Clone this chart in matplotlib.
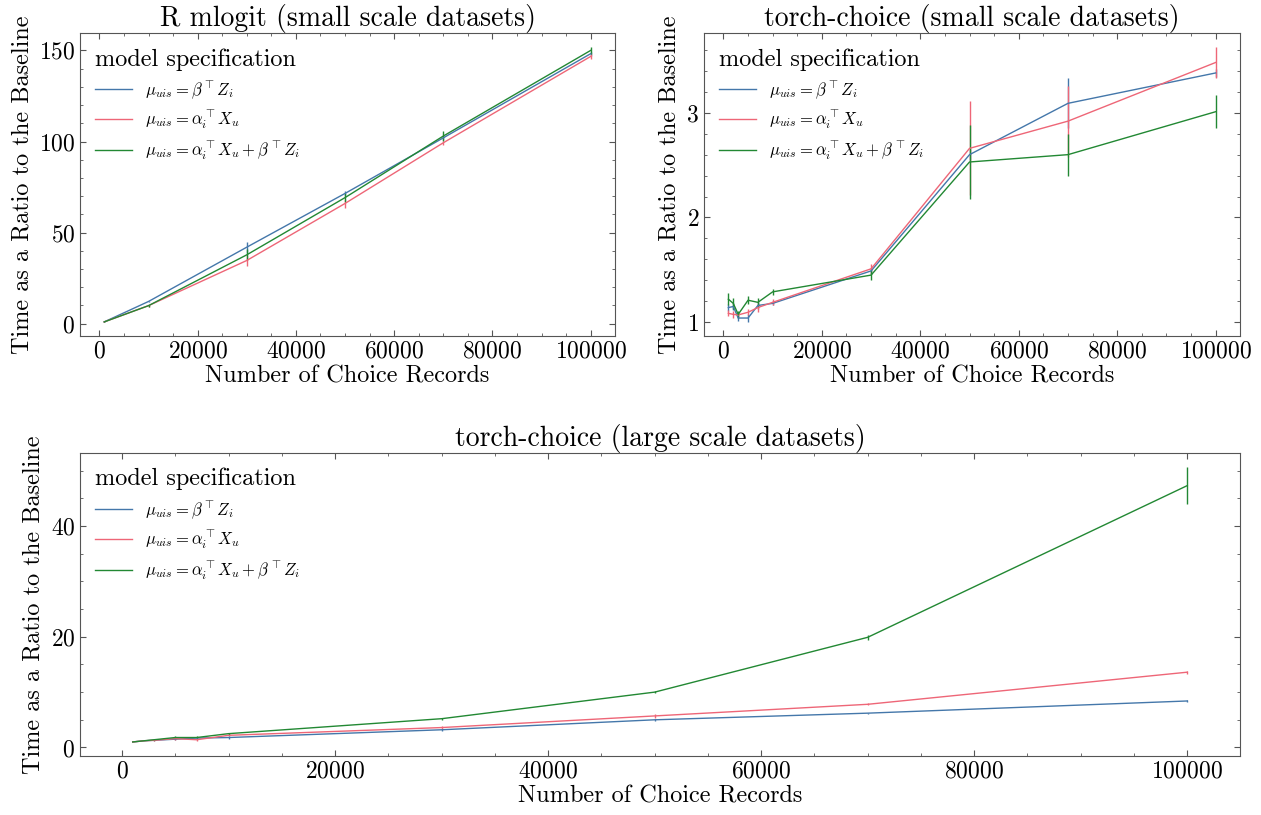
import matplotlib
matplotlib.use("Agg")
import matplotlib.pyplot as plt
from matplotlib.lines import Line2D
from matplotlib.ticker import MultipleLocator, AutoMinorLocator

# Computer-Modern look without LaTeX
plt.rcParams['font.family'] = 'serif'
plt.rcParams['font.serif'] = ['cmr10', 'DejaVu Serif']
plt.rcParams['mathtext.fontset'] = 'cm'
plt.rcParams['axes.formatter.use_mathtext'] = True
plt.rcParams['axes.unicode_minus'] = False
plt.rcParams['xtick.direction'] = 'in'
plt.rcParams['ytick.direction'] = 'in'
plt.rcParams['xtick.top'] = True
plt.rcParams['ytick.right'] = True
plt.rcParams['xtick.major.size'] = 4
plt.rcParams['ytick.major.size'] = 4
plt.rcParams['xtick.minor.size'] = 2
plt.rcParams['ytick.minor.size'] = 2
plt.rcParams['xtick.minor.visible'] = True
plt.rcParams['ytick.minor.visible'] = True
plt.rcParams['axes.linewidth'] = 0.8
plt.rcParams['axes.edgecolor'] = '#555555'
plt.rcParams['xtick.color'] = '#555555'
plt.rcParams['ytick.color'] = '#555555'
plt.rcParams['xtick.labelcolor'] = 'black'
plt.rcParams['ytick.labelcolor'] = 'black'

colors = ['#4477AA', '#EE6677', '#228833']
labels = [r'$\mu_{uis} = \beta^\top Z_i$',
          r'$\mu_{uis} = \alpha_i^\top X_u$',
          r'$\mu_{uis} = \alpha_i^\top X_u + \beta^\top Z_i$']

# R mlogit, small scale
n_r = [1000, 10000, 30000, 50000, 70000, 100000]
r_item = [1.0, 12.2, 42.0, 71.5, 102.0, 148.2]
r_user = [1.0, 9.9, 34.7, 66.0, 99.3, 146.7]
r_both = [1.0, 9.9, 37.8, 69.2, 103.0, 150.0]
r_item_err = [0.2, 0.5, 3.0, 1.5, 1.0, 1.0]
r_user_err = [0.2, 0.5, 3.0, 2.5, 1.0, 1.5]
r_both_err = [0.2, 0.5, 3.0, 2.5, 2.5, 2.0]

# torch-choice, small scale
n_t = [1000, 2000, 3000, 5000, 7000, 10000, 30000, 50000, 70000, 100000]
ts_item = [1.14, 1.15, 1.04, 1.04, 1.16, 1.18, 1.49, 2.60, 3.09, 3.38]
ts_user = [1.085, 1.075, 1.07, 1.095, 1.14, 1.19, 1.51, 2.66, 2.92, 3.48]
ts_both = [1.22, 1.18, 1.075, 1.21, 1.19, 1.29, 1.45, 2.53, 2.60, 3.01]
ts_item_err = [0.03, 0.03, 0.03, 0.04, 0.03, 0.02, 0.03, 0.05, 0.24, 0.04]
ts_user_err = [0.03, 0.03, 0.02, 0.03, 0.04, 0.03, 0.05, 0.45, 0.34, 0.15]
ts_both_err = [0.06, 0.05, 0.03, 0.04, 0.04, 0.03, 0.05, 0.35, 0.20, 0.16]

# torch-choice, large scale
tl_item = [1.0, 1.2, 1.3, 1.5, 1.7, 1.8, 3.2, 5.0, 6.2, 8.4]
tl_user = [1.0, 1.2, 1.3, 1.6, 1.4, 2.2, 3.6, 5.7, 7.8, 13.6]
tl_both = [1.0, 1.2, 1.4, 1.8, 1.8, 2.5, 5.2, 10.0, 19.9, 47.3]
tl_item_err = [0.05, 0.05, 0.05, 0.2, 0.1, 0.2, 0.2, 0.2, 0.1, 0.2]
tl_user_err = [0.05, 0.05, 0.05, 0.2, 0.2, 0.2, 0.3, 0.4, 0.2, 0.3]
tl_both_err = [0.05, 0.05, 0.05, 0.2, 0.2, 0.2, 0.2, 0.2, 0.5, 3.4]

W, H = 1261, 815
fig = plt.figure(figsize=(W / 100, H / 100), dpi=100)


def box(l, r, t, b):
    return [l / W, 1 - b / H, (r - l) / W, (b - t) / H]


ax1 = fig.add_axes(box(80, 615, 33, 336))
ax2 = fig.add_axes(box(704, 1240, 33, 336))
ax3 = fig.add_axes(box(80, 1240, 453, 756))


def draw(ax, x, ys, errs, title):
    for y, e, c in zip(ys, errs, colors):
        ax.errorbar(x, y, yerr=e, color=c, lw=1.0, elinewidth=1.0, capsize=0)
    ax.set_title(title, fontsize=20, pad=4)
    ax.set_xlabel('Number of Choice Records', fontsize=17.5, labelpad=2)
    ax.set_ylabel('Time as a Ratio to the Baseline', fontsize=17.5, labelpad=4)
    ax.tick_params(labelsize=17)
    ax.xaxis.set_major_locator(MultipleLocator(20000))
    ax.xaxis.set_minor_locator(AutoMinorLocator(4))
    handles = [Line2D([], [], color=c, lw=1.0) for c in colors]
    leg = ax.legend(handles, labels, title='model specification', loc='upper left',
                    frameon=False, fontsize=12, title_fontsize=17.5, handlelength=2.2)
    leg._legend_box.align = 'left'


draw(ax1, n_r, [r_item, r_user, r_both], [r_item_err, r_user_err, r_both_err],
     'R mlogit (small scale datasets)')
ax1.yaxis.set_major_locator(MultipleLocator(50))
ax1.yaxis.set_minor_locator(AutoMinorLocator(5))

draw(ax2, n_t, [ts_item, ts_user, ts_both], [ts_item_err, ts_user_err, ts_both_err],
     'torch-choice (small scale datasets)')
ax2.yaxis.set_major_locator(MultipleLocator(1))
ax2.yaxis.set_minor_locator(AutoMinorLocator(5))

draw(ax3, n_t, [tl_item, tl_user, tl_both], [tl_item_err, tl_user_err, tl_both_err],
     'torch-choice (large scale datasets)')
ax3.yaxis.set_major_locator(MultipleLocator(20))
ax3.yaxis.set_minor_locator(AutoMinorLocator(4))

fig.savefig('out.png', dpi=100)
